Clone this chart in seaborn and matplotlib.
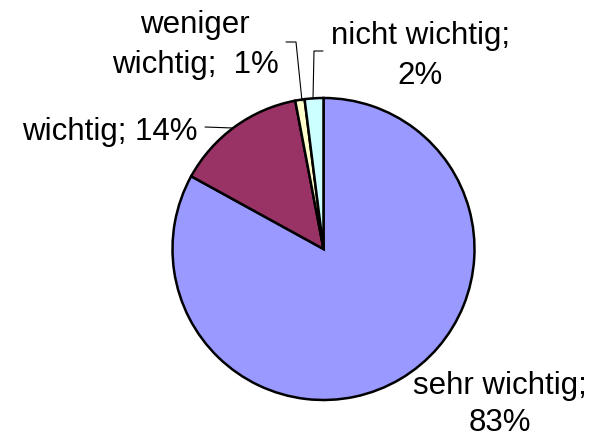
import numpy as np
import pandas as pd
import matplotlib.pyplot as plt
import seaborn as sns

# Daten
kategorien = ["sehr wichtig", "wichtig", "weniger wichtig", "nicht wichtig"]
anteile = [83, 14, 1, 2]
beschriftungen = ["sehr wichtig;\n83%", "wichtig; 14%", "weniger\nwichtig;  1%", "nicht wichtig;\n2%"]
farben = ["#9999FF", "#993366", "#FFFFCC", "#CCFFFF"]

sns.set_theme(style="white")
plt.rcParams["font.family"] = ["Liberation Sans", "DejaVu Sans"]

H = 439  # Bildhöhe in Pixeln, y von oben gemessen
fig = plt.figure(figsize=(5.93, 4.39), dpi=100)
ax = fig.add_axes([0, 0, 1, 1])
ax.set_aspect("equal")
ax.axis("off")

cx, cy, r = 323.5, H - 250, 151
wedges, _ = ax.pie(anteile, colors=sns.color_palette(farben), startangle=90,
                   counterclock=False, center=(cx, cy), radius=r,
                   wedgeprops=dict(edgecolor="black", linewidth=1.8))
ax.set_xlim(0, 593)
ax.set_ylim(0, H)

fs = 22.5


def label(text, x, baselines, ha="center"):
    # jede Zeile einzeln auf ihre Grundlinie setzen
    for zeile, yb in zip(text.split("\n"), baselines):
        ax.text(x, H - yb, zeile, ha=ha, va="baseline", fontsize=fs, color="black")


# Beschriftungen
label(beschriftungen[0], 500, [394, 431])
label(beschriftungen[1], 198, [140], ha="right")
label(beschriftungen[2], 195, [33, 73])
label(beschriftungen[3], 420, [44, 84])

# Führungslinien
ax.plot([205, 233], [H - 128, H - 129], color="black", lw=0.8)
ax.plot([286, 296, 302], [H - 43, H - 43, H - 102], color="black", lw=0.8)
ax.plot([323, 314, 313], [H - 52, H - 52, H - 100], color="black", lw=0.8)

fig.savefig("out.png", dpi=100)
